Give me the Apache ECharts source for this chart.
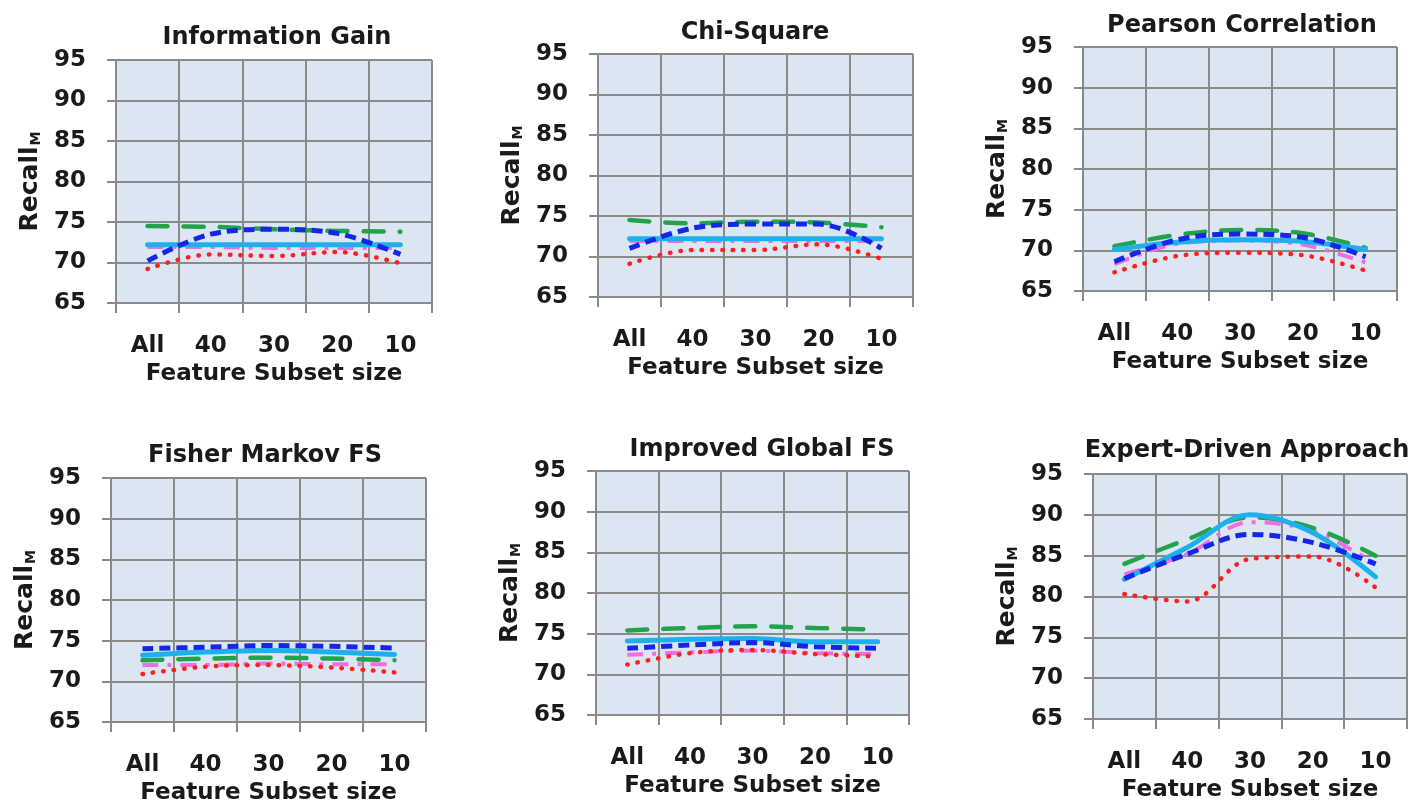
<!DOCTYPE html>
<html>
<head>
<meta charset="utf-8">
<script src="https://cdn.jsdelivr.net/npm/echarts@6/dist/echarts.min.js"></script>
<style>
html,body{margin:0;padding:0;background:#fff;}
#c{width:1409px;height:807px;}
</style>
</head>
<body>
<div id="c"></div>
<script>
const categories = ['All', '40', '30', '20', '10'];
const titles = ['Information Gain', 'Chi-Square', 'Pearson Correlation', 'Fisher Markov FS', 'Improved Global FS', 'Expert-Driven Approach'];
const yTicks = { min: 65, max: 95, step: 5 };

// Information Gain
const igGreen = [74.5, 74.4, 74.1, 73.9, 73.8];
const igBlue  = [70.2, 73.5, 74.1, 73.6, 71.0];
const igCyan  = [72.2, 72.2, 72.2, 72.2, 72.2];
const igPink  = [71.9, 71.9, 71.8, 71.8, 71.8];
const igRed   = [69.2, 71.0, 70.8, 71.3, 69.9];
// Chi-Square
const csGreen = [74.5, 74.1, 74.3, 74.2, 73.6];
const csBlue  = [71.0, 73.5, 74.0, 74.0, 71.0];
const csCyan  = [72.2, 72.2, 72.2, 72.2, 72.2];
const csPink  = [71.9, 71.9, 71.9, 71.9, 71.9];
const csRed   = [69.1, 70.8, 70.8, 71.5, 69.7];
// Pearson Correlation
const pcGreen = [70.5, 71.9, 72.5, 72.1, 70.3];
const pcBlue  = [68.6, 71.3, 72.0, 71.6, 69.2];
const pcCyan  = [70.1, 71.0, 71.3, 71.1, 70.1];
const pcPink  = [68.3, 70.8, 71.2, 70.7, 68.5];
const pcRed   = [67.3, 69.3, 69.7, 69.4, 67.5];
// Fisher Markov FS
const fmGreen = [72.6, 72.8, 72.9, 72.8, 72.6];
const fmBlue  = [74.0, 74.2, 74.4, 74.3, 74.1];
const fmCyan  = [73.2, 73.6, 73.8, 73.6, 73.3];
const fmPink  = [72.0, 72.0, 72.2, 72.1, 72.1];
const fmRed   = [70.9, 71.8, 72.0, 71.7, 71.1];
// Improved Global FS
const igfGreen = [75.4, 75.7, 75.9, 75.7, 75.5];
const igfBlue  = [73.2, 73.6, 73.9, 73.4, 73.2];
const igfCyan  = [74.1, 74.3, 74.4, 74.0, 74.0];
const igfPink  = [72.4, 72.7, 72.9, 72.6, 72.5];
const igfRed   = [71.2, 72.6, 73.0, 72.5, 72.2];
// Expert-Driven Approach
const edGreen = [84.0, 87.0, 89.7, 88.4, 85.0];
const edBlue  = [82.2, 85.2, 87.6, 86.6, 84.0];
const edCyan  = [82.1, 86.0, 90.0, 87.8, 82.4];
const edPink  = [82.7, 85.2, 89.1, 88.0, 84.0];
const edRed   = [80.3, 79.4, 84.6, 84.9, 81.1];

const panels = [
  { green: igGreen, blue: igBlue, cyan: igCyan, pink: igPink, red: igRed },
  { green: csGreen, blue: csBlue, cyan: csCyan, pink: csPink, red: csRed },
  { green: pcGreen, blue: pcBlue, cyan: pcCyan, pink: pcPink, red: pcRed },
  { green: fmGreen, blue: fmBlue, cyan: fmCyan, pink: fmPink, red: fmRed },
  { green: igfGreen, blue: igfBlue, cyan: igfCyan, pink: igfPink, red: igfRed },
  { green: edGreen, blue: edBlue, cyan: edCyan, pink: edPink, red: edRed }
];

// layout (plot rectangles and title centres)
const boxes = [
  { l: 116, t: 60, w: 316, h: 243, tx: 272, ty: 35 },
  { l: 598, t: 54, w: 315, h: 243, tx: 750, ty: 30 },
  { l: 1083, t: 47, w: 314, h: 244, tx: 1237, ty: 23 },
  { l: 111, t: 478, w: 315, h: 244, tx: 260, ty: 453 },
  { l: 596, t: 471, w: 313, h: 244, tx: 757, ty: 447 },
  { l: 1093, t: 474, w: 314, h: 245, tx: 1242, ty: 448 }
];

const FONT = 'DejaVu Sans';
const GRIDC = '#8a8a8a';
const styles = {
  pink:  { color: '#f06ee0', width: 4, type: [16, 9, 4, 9], cap: 'butt' },
  green: { color: '#22a24a', width: 4.5, type: [20, 16], cap: 'round' },
  cyan:  { color: '#1eb0ec', width: 5, type: 'solid', cap: 'round' },
  red:   { color: '#ff1e1e', width: 4.5, type: [0.5, 10], cap: 'round' },
  blue:  { color: '#1427e6', width: 5, type: [11, 6], cap: 'butt' }
};
const order = ['pink', 'green', 'cyan', 'red', 'blue'];

const grid = [], xAxis = [], yAxis = [], series = [], title = [];
boxes.forEach((b, i) => {
  grid.push({ left: b.l, top: b.t, width: b.w, height: b.h, backgroundColor: '#dce6f2', show: true, borderWidth: 0 });
  title.push({
    text: titles[i], left: b.tx, top: b.ty - 14, textAlign: 'center',
    textStyle: { fontFamily: FONT, fontWeight: 'bold', fontSize: 24, color: '#1a1a1a' }
  });
  xAxis.push({
    type: 'category', gridIndex: i, data: categories, boundaryGap: true,
    name: 'Feature Subset size', nameLocation: 'middle', nameGap: 60,
    nameTextStyle: { fontFamily: FONT, fontWeight: 'bold', fontSize: 23, color: '#1a1a1a' },
    axisLine: { show: true, lineStyle: { color: GRIDC, width: 2 } },
    axisTick: { show: true, length: 10, inside: false, lineStyle: { color: GRIDC, width: 2 } },
    splitLine: { show: true, lineStyle: { color: GRIDC, width: 2 } },
    axisLabel: { margin: 32, fontFamily: FONT, fontWeight: 'bold', fontSize: 23, color: '#1a1a1a' }
  });
  yAxis.push({
    type: 'value', gridIndex: i, min: yTicks.min, max: yTicks.max, interval: yTicks.step,
    name: '{r|Recall}{s|M}', nameLocation: 'middle', nameRotate: 90, nameGap: 73,
    nameTextStyle: {
      rich: {
        r: { fontFamily: FONT, fontWeight: 'bold', fontSize: 25, color: '#1a1a1a' },
        s: { fontFamily: FONT, fontWeight: 'bold', fontSize: 14, color: '#1a1a1a', verticalAlign: 'bottom', padding: [0, 0, 0, 1] }
      }
    },
    axisLine: { show: true, lineStyle: { color: GRIDC, width: 2 } },
    axisTick: { show: true, length: 9, inside: false, lineStyle: { color: GRIDC, width: 2 } },
    splitLine: { show: true, lineStyle: { color: GRIDC, width: 2 } },
    axisLabel: { margin: 30, fontFamily: FONT, fontWeight: 'bold', fontSize: 23, color: '#1a1a1a' }
  });
  order.forEach(k => {
    series.push({
      type: 'line', name: k, xAxisIndex: i, yAxisIndex: i, data: panels[i][k],
      smooth: 0.35, showSymbol: false, symbol: 'none', silent: true,
      lineStyle: styles[k], z: 3
    });
  });
});

const chart = echarts.init(document.getElementById('c'), null, { renderer: 'canvas' });
chart.setOption({ animation: false, backgroundColor: '#ffffff', title, grid, xAxis, yAxis, series });
</script>
</body>
</html>
